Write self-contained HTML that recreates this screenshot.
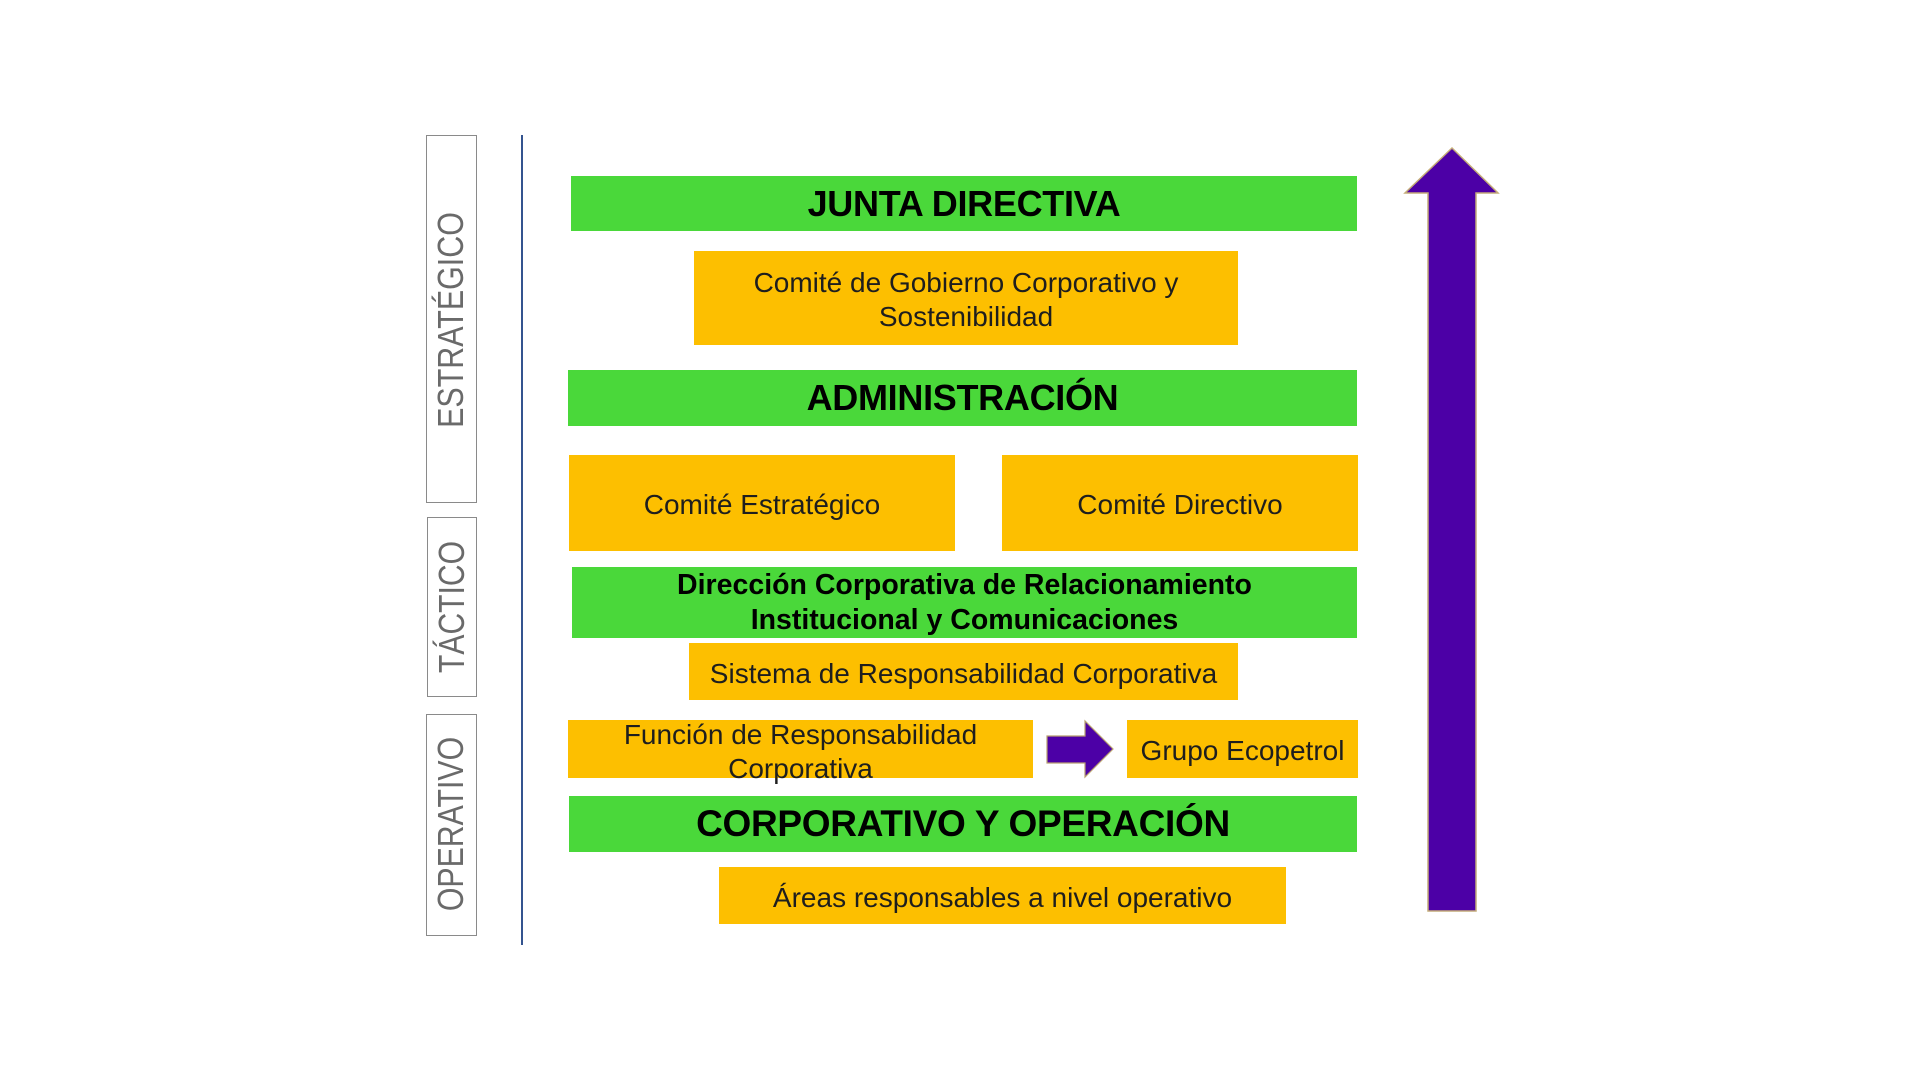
<!DOCTYPE html>
<html>
<head>
<meta charset="utf-8">
<style>
  html, body { margin:0; padding:0; background:#ffffff; }
  body { width:1920px; height:1080px; position:relative; overflow:hidden;
         font-family:"Liberation Sans", Arial, sans-serif; }
  .abs { position:absolute; box-sizing:border-box; }
  .g { background:#4ad83a; display:flex; align-items:center; justify-content:center;
       text-align:center; color:#000; font-weight:bold; }
  .o { background:#fdbf00; display:flex; align-items:center; justify-content:center;
       text-align:center; color:#1e1e1e; font-size:28px; line-height:34px; padding-top:4px; }
  .big { font-size:36px; letter-spacing:-0.3px; }
  .lbl { border:1.5px solid #8a8a8a; background:#fff; }
  .lt { position:absolute; left:0; top:0; white-space:nowrap; color:#6a6a6a;
        font-size:36px; line-height:36px; }
</style>
</head>
<body>

<!-- Left level labels -->
<div class="abs lbl" style="left:426px; top:135px; width:51px; height:368px;"></div>
<div class="abs lbl" style="left:427px; top:517px; width:50px; height:180px;"></div>
<div class="abs lbl" style="left:426px; top:714px; width:51px; height:222px;"></div>

<div class="lt" style="transform: translate(451px,320px) rotate(-90deg) scaleX(0.845) translate(-50%,-50%); transform-origin:0 0;">ESTRATÉGICO</div>
<div class="lt" style="transform: translate(452px,607px) rotate(-90deg) scaleX(0.835) translate(-50%,-50%); transform-origin:0 0;">TÁCTICO</div>
<div class="lt" style="transform: translate(451px,824px) rotate(-90deg) scaleX(0.84) translate(-50%,-50%); transform-origin:0 0;">OPERATIVO</div>

<!-- Vertical divider line -->
<div class="abs" style="left:521px; top:135px; width:2px; height:810px; background:#34548f;"></div>

<!-- Rows -->
<div class="abs g big" style="left:571px; top:176px; width:786px; height:55px;">JUNTA DIRECTIVA</div>

<div class="abs o" style="left:694px; top:251px; width:544px; height:94px;">Comité de Gobierno Corporativo y<br>Sostenibilidad</div>

<div class="abs g big" style="left:568px; top:370px; width:789px; height:56px;">ADMINISTRACIÓN</div>

<div class="abs o" style="left:569px; top:455px; width:386px; height:96px;">Comité Estratégico</div>
<div class="abs o" style="left:1002px; top:455px; width:356px; height:96px;">Comité Directivo</div>

<div class="abs g" style="left:572px; top:567px; width:785px; height:71px; font-size:28.5px; line-height:35px;">Dirección Corporativa de Relacionamiento<br>Institucional y Comunicaciones</div>

<div class="abs o" style="left:689px; top:643px; width:549px; height:57px;">Sistema de Responsabilidad Corporativa</div>

<div class="abs o" style="left:568px; top:720px; width:465px; height:58px; align-items:flex-start; padding-top:0;"><div style="margin-top:-2px;">Función de Responsabilidad<br>Corporativa</div></div>

<div class="abs o" style="left:1127px; top:720px; width:231px; height:58px;">Grupo Ecopetrol</div>

<div class="abs g" style="left:569px; top:796px; width:788px; height:56px; font-size:37px; letter-spacing:-0.3px;">CORPORATIVO Y OPERACIÓN</div>

<div class="abs o" style="left:719px; top:867px; width:567px; height:57px;">Áreas responsables a nivel operativo</div>

<!-- Arrows -->
<svg class="abs" style="left:0; top:0;" width="1920" height="1080" viewBox="0 0 1920 1080">
  <!-- small right arrow -->
  <polygon points="1047,736 1085,736 1085,721 1113,749 1085,777 1085,763 1047,763"
           fill="#4c00a6" stroke="#b8a070" stroke-width="1.2" stroke-linejoin="miter"/>
  <!-- big up arrow -->
  <polygon points="1452,148 1498,193 1476,193 1476,911 1428,911 1428,193 1405,193"
           fill="#4c00a6" stroke="#c4ac78" stroke-width="1.5" stroke-linejoin="miter"/>
</svg>

</body>
</html>
